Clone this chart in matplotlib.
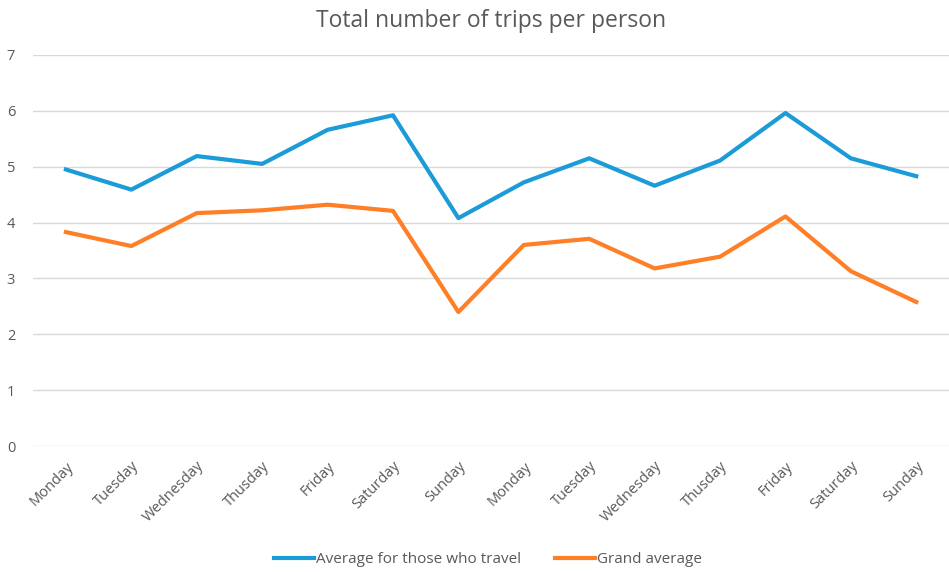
import matplotlib.pyplot as plt

days = ["Monday", "Tuesday", "Wednesday", "Thusday", "Friday", "Saturday", "Sunday",
        "Monday", "Tuesday", "Wednesday", "Thusday", "Friday", "Saturday", "Sunday"]
travellers = [4.95, 4.59, 5.19, 5.05, 5.66, 5.92, 4.08,
              4.72, 5.15, 4.66, 5.11, 5.96, 5.15, 4.83]
grand = [3.83, 3.58, 4.17, 4.22, 4.32, 4.21, 2.40,
         3.60, 3.71, 3.18, 3.39, 4.11, 3.13, 2.58]

plt.rcParams['font.family'] = ['Open Sans', 'DejaVu Sans']
grey = "#595959"

fig = plt.figure(figsize=(9.49, 5.72), dpi=100)
ax = fig.add_axes([0.035, 0.22, 0.965, 0.684])

x = list(range(len(days)))
ax.plot(x, travellers, color="#1B9BD7", lw=3, label="Average for those who travel")
ax.plot(x, grand, color="#FF7F27", lw=3, label="Grand average")

ax.set_xlim(-0.5, len(days) - 0.5)
ax.set_ylim(0, 7)
ax.set_yticks(range(0, 8))
ax.set_xticks(x)
ax.set_xticklabels(days, rotation=45, ha="right", rotation_mode="anchor")
ax.tick_params(axis="both", length=0, colors=grey, labelsize=10.5)
ax.tick_params(axis="x", pad=9)
ax.tick_params(axis="y", pad=13)
ax.grid(axis="y", color="#D9D9D9", lw=1)
ax.set_axisbelow(True)
for s in ax.spines.values():
    s.set_visible(False)

ax.set_title("Total number of trips per person", fontsize=16.5, color=grey, pad=20)
ax.legend(loc="upper center", bbox_to_anchor=(0.497, -0.235), ncol=2, frameon=False,
          fontsize=11, handlelength=2.6, handletextpad=0.15, columnspacing=2.2,
          labelcolor=grey)

fig.savefig("out.png", dpi=100)
